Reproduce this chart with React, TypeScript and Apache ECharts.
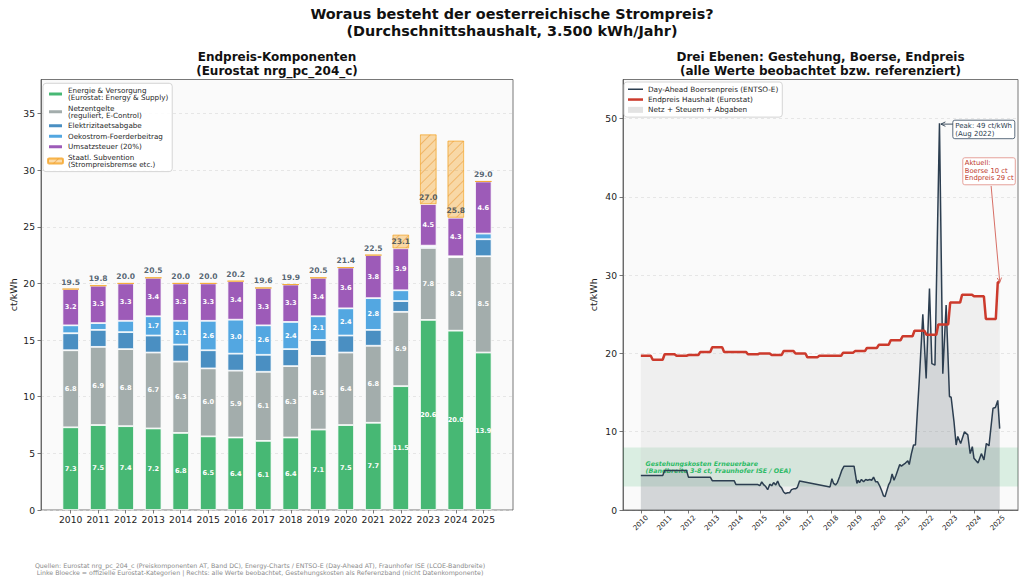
import React, { useEffect, useRef } from "react";
import * as echarts from "echarts";

const FONT = "DejaVu Sans";

// ---------- left chart data (Eurostat components, ct/kWh) ----------
const YEARS = ["2010", "2011", "2012", "2013", "2014", "2015", "2016", "2017", "2018", "2019", "2020", "2021", "2022", "2023", "2024", "2025"];
const ENERGIE = [7.3, 7.5, 7.4, 7.2, 6.8, 6.5, 6.4, 6.1, 6.4, 7.1, 7.5, 7.7, 11.5, 20.6, 20.0, 13.9];
const NETZ = [6.8, 6.9, 6.8, 6.7, 6.3, 6.0, 5.9, 6.1, 6.3, 6.5, 6.4, 6.8, 6.9, 7.8, 8.2, 8.5];
const ABGABE = [1.5, 1.5, 1.5, 1.5, 1.5, 1.6, 1.5, 1.5, 1.5, 1.4, 1.5, 1.4, 1.0, 0.15, 0.1, 1.5];
const OEKO = [0.7, 0.6, 1.0, 1.7, 2.1, 2.6, 3.0, 2.6, 2.4, 2.1, 2.4, 2.8, 1.0, 0.1, 0.0, 0.5];
const UST = [3.2, 3.3, 3.3, 3.4, 3.3, 3.3, 3.4, 3.3, 3.3, 3.4, 3.6, 3.8, 3.9, 4.5, 4.3, 4.6];
const ENDPREIS_NETTO = [19.5, 19.8, 20.0, 20.5, 20.0, 20.0, 20.2, 19.6, 19.9, 20.5, 21.4, 22.5, 23.1, 27.0, 25.8, 29.0];
const SUBVENTION = [0, 0, 0, 0, 0, 0, 0, 0, 0, 0, 0, 0, 1.2, 6.15, 6.8, 0];
const Y_TICKS_LEFT = [0, 5, 10, 15, 20, 25, 30, 35];

// ---------- right chart data ----------
const DA_T = [
  2010.0, 2010.92, 2011.0, 2011.92, 2012.0, 2012.92, 2013.0, 2013.92, 2014.0, 2014.92,
  2015.0, 2015.08, 2015.17, 2015.25, 2015.33, 2015.42, 2015.5, 2015.58, 2015.67, 2015.75, 2015.83, 2015.92,
  2016.0, 2016.08, 2016.17, 2016.25, 2016.33, 2016.42, 2016.5, 2016.58, 2016.67,
  2017.95, 2018.03, 2018.1, 2018.18, 2018.26, 2018.36, 2018.45, 2018.54, 2018.96,
  2019.08, 2019.13, 2019.19, 2019.27, 2019.36, 2019.45, 2019.53, 2019.62, 2019.7, 2019.78, 2019.87, 2019.95,
  2020.05, 2020.13, 2020.2, 2020.26, 2020.33, 2020.41, 2020.48, 2020.56, 2020.64, 2020.72, 2020.8, 2020.88, 2020.95,
  2021.03, 2021.12, 2021.22, 2021.28, 2021.37, 2021.46, 2021.54, 2021.62, 2021.7, 2021.85, 2021.99,
  2022.13, 2022.23, 2022.36, 2022.55, 2022.69, 2022.83, 2022.97,
  2023.04, 2023.16, 2023.25, 2023.32, 2023.44, 2023.6, 2023.74, 2023.84, 2023.93,
  2024.0, 2024.17, 2024.31, 2024.42, 2024.52, 2024.63, 2024.8, 2024.9, 2025.0, 2025.08,
];
const DA_V = [
  4.4, 4.4, 5.05, 5.05, 4.2, 4.2, 3.75, 3.75, 3.25, 3.25,
  3.1, 3.6, 3.2, 3.0, 2.6, 3.3, 3.1, 3.5, 3.2, 3.7, 3.1, 2.8,
  2.3, 2.1, 2.2, 2.2, 2.6, 2.7, 2.7, 2.9, 3.7,
  2.95, 4.0, 3.4, 3.2, 3.5, 4.3, 5.1, 5.6, 5.6,
  3.4, 3.8, 3.5, 3.9, 3.6, 3.9, 3.8, 3.9, 3.8, 4.2, 3.6, 3.6,
  3.0, 2.4, 1.8, 1.7, 2.4, 3.2, 3.6, 4.6, 3.8, 4.4, 5.1, 5.8, 5.6,
  5.8, 6.0, 6.3, 5.8, 7.2, 8.3, 8.3, 12.5, 16.5, 25.0, 16.8,
  28.3, 18.7, 18.5, 49.4, 17.4, 26.2, 14.5,
  14.4, 11.3, 8.3, 9.4, 8.5, 10.0, 9.6, 7.2, 8.1,
  6.6, 6.0, 7.2, 6.4, 8.5, 8.2, 13.0, 13.1, 14.0, 10.4,
];
// Endpreis Haushalt (Eurostat), half-years from 2010-H1 to 2025-H1
const EP_HALBJAHR = [
  19.7, 19.2, 19.9, 19.7, 19.8, 20.2, 20.8, 20.2, 20.2, 19.9, 20.0, 19.8, 20.3, 20.0, 19.5, 19.7,
  19.7, 20.1, 20.3, 20.7, 21.1, 21.7, 22.2, 22.9, 22.4, 23.7, 26.5, 27.5, 27.3, 24.4, 29.1,
];
const EP_START = 2010;
const X_TICKS_RIGHT = [2010, 2011, 2012, 2013, 2014, 2015, 2016, 2017, 2018, 2019, 2020, 2021, 2022, 2023, 2024, 2025];
const Y_TICKS_RIGHT = [0, 10, 20, 30, 40, 50];
const BAND = [3, 8];
const PEAK = [2022.55, 49.4];

const NAMES_LEFT = [
  "Energie & Versorgung\n(Eurostat: Energy & Supply)",
  "Netzentgelte\n(reguliert, E-Control)",
  "Elektrizitaetsabgabe",
  "Oekostrom-Foerderbeitrag",
  "Umsatzsteuer (20%)",
  "Staatl. Subvention\n(Strompreisbremse etc.)",
];
const NAMES_RIGHT = ["Day-Ahead Boersenpreis (ENTSO-E)", "Endpreis Haushalt (Eurostat)", "Netz + Steuern + Abgaben"];

const grossSum = YEARS.map((_, i) => ENERGIE[i] + NETZ[i] + ABGABE[i] + OEKO[i] + UST[i]);
const scale = YEARS.map((_, i) => ENDPREIS_NETTO[i] / grossSum[i]);

// layout of the left panel: x range -1.08 .. 16.08 (bar spacing like the reference)
const L_LEFT = 41, L_WIDTH = 472, TOP = 79.5, HEIGHT = 430.5;
const UNIT = L_WIDTH / 17.16;

function barSeries(name: string, vals: number[], color: string, labelMin: number) {
  return {
    type: "bar",
    name,
    stack: "total",
    xAxisIndex: 2,
    yAxisIndex: 2,
    barWidth: 16.5,
    data: vals.map((v, i) => v * scale[i]),
    itemStyle: { color, borderColor: "#ffffff", borderWidth: 0.8 },
    label: {
      show: true,
      position: "inside",
      color: "#ffffff",
      fontSize: 6.6,
      fontWeight: "bold",
      fontFamily: FONT,
      formatter: (p: any) => (vals[p.dataIndex] >= labelMin ? vals[p.dataIndex].toFixed(1) : ""),
    },
    silent: true,
  };
}

function buildEp() {
  const pts: number[][] = [];
  EP_HALBJAHR.forEach((v, k) => {
    const s = EP_START + k * 0.5;
    const last = k === EP_HALBJAHR.length - 1;
    pts.push([s, v]);
    pts.push([s + (last ? 1 / 12 : 5 / 12), v]);
  });
  return pts;
}

const lineIcon = (h: number) => `path://M0,0 L30,0 L30,${h} L0,${h} Z`;

export default function App() {
  const ref = useRef<HTMLDivElement>(null);
  useEffect(() => {
    if (!ref.current) return;
    const chart = echarts.init(ref.current, null, { renderer: "svg" });
    const epPts = buildEp();
    const daPts = DA_T.map((t, i) => [t, DA_V[i]]);
    const axisCol = "#555555";
    const tickFont = { fontFamily: FONT, fontSize: 9.2, color: "#222222" };

    const option: any = {
      animation: false,
      backgroundColor: "#ffffff",
      textStyle: { fontFamily: FONT },
      grid: [
        { left: L_LEFT, top: TOP, width: L_WIDTH, height: HEIGHT, show: true, backgroundColor: "#fafafa", borderColor: axisCol, borderWidth: 0.8 },
        { left: 623, top: TOP, width: 395, height: HEIGHT, show: true, backgroundColor: "#fafafa", borderColor: axisCol, borderWidth: 0.8 },
        { left: L_LEFT + 0.58 * UNIT, top: TOP, width: 16 * UNIT, height: HEIGHT, show: false },
      ],
      xAxis: [
        { type: "value", gridIndex: 0, min: 0, max: 1, show: false },
        {
          type: "value",
          gridIndex: 1,
          min: 2009.25,
          max: 2025.85,
          axisLine: { lineStyle: { color: axisCol, width: 0.8 } },
          axisTick: { customValues: X_TICKS_RIGHT, length: 3.5, lineStyle: { color: axisCol, width: 0.8 } },
          axisLabel: {
            customValues: X_TICKS_RIGHT,
            formatter: (v: number) => String(Math.round(v)),
            rotate: 45,
            align: "center",
            verticalAlign: "middle",
            margin: 13,
            fontFamily: FONT,
            fontSize: 7,
            color: "#222222",
          },
          splitLine: { show: false },
        },
        {
          type: "category",
          gridIndex: 2,
          data: YEARS,
          boundaryGap: true,
          axisLine: { show: false },
          axisTick: { show: true, alignWithLabel: true, length: 3.5, lineStyle: { color: axisCol, width: 0.8 } },
          axisLabel: { margin: 5, interval: 0, ...tickFont },
          splitLine: { show: false },
        },
      ],
      yAxis: [
        {
          type: "value",
          gridIndex: 0,
          min: 0,
          max: 38,
          interval: 5,
          name: "ct/kWh",
          nameLocation: "middle",
          nameGap: 23,
          nameTextStyle: { fontFamily: FONT, fontSize: 9.5, color: "#222222" },
          axisLine: { show: true, lineStyle: { color: axisCol, width: 0.8 } },
          axisTick: { show: true, customValues: Y_TICKS_LEFT, length: 3.5, lineStyle: { color: axisCol, width: 0.8 } },
          axisLabel: { customValues: Y_TICKS_LEFT, margin: 6, ...tickFont },
          splitLine: { show: true, lineStyle: { color: "#dcdcdc", type: [3, 3], width: 0.7 } },
        },
        {
          type: "value",
          gridIndex: 1,
          min: 0,
          max: 55,
          interval: 10,
          name: "ct/kWh",
          nameLocation: "middle",
          nameGap: 25,
          nameTextStyle: { fontFamily: FONT, fontSize: 9.5, color: "#222222" },
          axisLine: { show: true, lineStyle: { color: axisCol, width: 0.8 } },
          axisTick: { show: true, customValues: Y_TICKS_RIGHT, length: 3.5, lineStyle: { color: axisCol, width: 0.8 } },
          axisLabel: { customValues: Y_TICKS_RIGHT, margin: 6, ...tickFont },
          splitLine: { show: true, lineStyle: { color: "#dcdcdc", type: [3, 3], width: 0.7 } },
        },
        { type: "value", gridIndex: 2, min: 0, max: 38, show: false, splitLine: { show: false } },
      ],
      legend: [
        {
          data: NAMES_LEFT,
          orient: "vertical",
          left: 43,
          top: 83.3,
          itemWidth: 15,
          itemHeight: 5,
          itemGap: 3.3,
          padding: [3.5, 4, 3.5, 4],
          backgroundColor: "rgba(255,255,255,0.85)",
          borderColor: "#cccccc",
          borderWidth: 0.8,
          borderRadius: 3,
          selectedMode: false,
          textStyle: { fontFamily: FONT, fontSize: 7.2, lineHeight: 7.2, color: "#262626" },
        },
        {
          data: [
            { name: NAMES_RIGHT[0], icon: lineIcon(3) },
            { name: NAMES_RIGHT[1], icon: lineIcon(5) },
            { name: NAMES_RIGHT[2], icon: "rect" },
          ],
          orient: "vertical",
          left: 624,
          top: 82,
          itemWidth: 15,
          itemHeight: 6,
          itemGap: 2.8,
          padding: [3.5, 4, 3.5, 4],
          backgroundColor: "rgba(255,255,255,0.85)",
          borderColor: "#cccccc",
          borderWidth: 0.8,
          borderRadius: 3,
          selectedMode: false,
          textStyle: { fontFamily: FONT, fontSize: 7.3, lineHeight: 7.5, color: "#262626" },
        },
      ],
      series: [
        barSeries(NAMES_LEFT[0], ENERGIE, "#47b874", 0),
        barSeries(NAMES_LEFT[1], NETZ, "#a3adac", 0),
        barSeries(NAMES_LEFT[2], ABGABE, "#4a8fc2", 1.7),
        barSeries(NAMES_LEFT[3], OEKO, "#53a7e1", 1.7),
        barSeries(NAMES_LEFT[4], UST, "#9d5bb8", 0),
        {
          type: "bar",
          name: NAMES_LEFT[5],
          stack: "total",
          xAxisIndex: 2,
          yAxisIndex: 2,
          barWidth: 16.5,
          data: SUBVENTION,
          itemStyle: {
            color: "rgba(243,156,18,0.36)",
            borderColor: "rgba(243,156,18,0.45)",
            borderWidth: 0.8,
            decal: {
              symbol: "rect",
              symbolSize: 1,
              color: "rgba(232,140,30,0.45)",
              dashArrayX: [1, 0],
              dashArrayY: [1, 6],
              rotation: -Math.PI / 4,
            },
          },
          silent: true,
        },
        {
          type: "scatter",
          name: "total",
          xAxisIndex: 2,
          yAxisIndex: 2,
          symbolSize: 1,
          itemStyle: { color: "rgba(0,0,0,0)" },
          z: 10,
          data: ENDPREIS_NETTO,
          label: {
            show: true,
            position: "top",
            distance: 2.5,
            fontFamily: FONT,
            fontSize: 7.6,
            fontWeight: "bold",
            color: "#2c3e50",
            formatter: (p: any) => ENDPREIS_NETTO[p.dataIndex].toFixed(1),
          },
          silent: true,
        },
        // right chart
        {
          type: "line",
          name: NAMES_RIGHT[2],
          xAxisIndex: 1,
          yAxisIndex: 1,
          data: epPts,
          symbol: "none",
          lineStyle: { width: 0, opacity: 0 },
          itemStyle: { color: "#e3e3e3" },
          areaStyle: { color: "rgba(200,200,200,0.3)" },
          z: 1,
          silent: true,
          markArea: {
            silent: true,
            itemStyle: { color: "rgba(39,174,96,0.15)" },
            data: [[{ yAxis: BAND[0] }, { yAxis: BAND[1] }]],
          },
        },
        {
          type: "line",
          name: NAMES_RIGHT[0],
          xAxisIndex: 1,
          yAxisIndex: 1,
          data: daPts,
          symbol: "none",
          lineStyle: { width: 1.5, color: "#2c3e50" },
          itemStyle: { color: "#2c3e50" },
          areaStyle: { color: "rgba(44,62,80,0.2)" },
          z: 3,
          silent: true,
        },
        {
          type: "line",
          name: NAMES_RIGHT[1],
          xAxisIndex: 1,
          yAxisIndex: 1,
          data: epPts,
          symbol: "none",
          lineStyle: { width: 2.5, color: "#cc3a2c" },
          itemStyle: { color: "#cc3a2c" },
          z: 4,
          silent: true,
        },
      ],
    };
    chart.setOption(option);

    const px = (x: number, y: number) => chart.convertToPixel({ gridIndex: 1 }, [x, y]) as number[];
    const arrowHead = (sx: number, sy: number, tx: number, ty: number, color: string) => {
      const dx = tx - sx, dy = ty - sy;
      const len = Math.sqrt(dx * dx + dy * dy) || 1;
      const ux = dx / len, uy = dy / len;
      const size = 4.5, hw = 2.2;
      const bx = tx - ux * size, by = ty - uy * size;
      return {
        type: "polyline",
        z: 20,
        silent: true,
        shape: { points: [[bx - uy * hw, by + ux * hw], [tx, ty], [bx + uy * hw, by - ux * hw]] },
        style: { stroke: color, lineWidth: 0.9, fill: null },
      };
    };

    const peakTip = px(PEAK[0] + 0.06, PEAK[1] - 0.1);
    const peakBox = px(2023.11, 49.8);
    const aktBox = px(2023.53, 45.0);
    const epEnd = epPts[epPts.length - 1];
    const aktTip = px(epEnd[0], epEnd[1]);
    const aktStart = px(2024.72, 41.4);
    const bandText = px(2010.2, 6.4);

    const elements: any[] = [
      { type: "text", silent: true, style: { text: "Woraus besteht der oesterreichische Strompreis?", x: 512, y: 13.5, align: "center", verticalAlign: "middle", fontFamily: FONT, fontSize: 14.4, fontWeight: "bold", fill: "#111111" } },
      { type: "text", silent: true, style: { text: "(Durchschnittshaushalt, 3.500 kWh/Jahr)", x: 512, y: 30.5, align: "center", verticalAlign: "middle", fontFamily: FONT, fontSize: 14.4, fontWeight: "bold", fill: "#111111" } },
      { type: "text", silent: true, style: { text: "Endpreis-Komponenten", x: 277, y: 56.5, align: "center", verticalAlign: "middle", fontFamily: FONT, fontSize: 12, fontWeight: "bold", fill: "#111111" } },
      { type: "text", silent: true, style: { text: "(Eurostat nrg_pc_204_c)", x: 277, y: 70.5, align: "center", verticalAlign: "middle", fontFamily: FONT, fontSize: 12, fontWeight: "bold", fill: "#111111" } },
      { type: "text", silent: true, style: { text: "Drei Ebenen: Gestehung, Boerse, Endpreis", x: 820.5, y: 56.5, align: "center", verticalAlign: "middle", fontFamily: FONT, fontSize: 12, fontWeight: "bold", fill: "#111111" } },
      { type: "text", silent: true, style: { text: "(alle Werte beobachtet bzw. referenziert)", x: 820.5, y: 70.5, align: "center", verticalAlign: "middle", fontFamily: FONT, fontSize: 12, fontWeight: "bold", fill: "#111111" } },
      { type: "text", silent: true, style: { text: "Quellen: Eurostat nrg_pc_204_c (Preiskomponenten AT, Band DC), Energy-Charts / ENTSO-E (Day-Ahead AT), Fraunhofer ISE (LCOE-Bandbreite)", x: 260, y: 565, align: "center", verticalAlign: "middle", fontFamily: FONT, fontSize: 6.3, fill: "#8a8a8a" } },
      { type: "text", silent: true, style: { text: "Linke Bloecke = offizielle Eurostat-Kategorien | Rechts: alle Werte beobachtet, Gestehungskosten als Referenzband (nicht Datenkomponente)", x: 260, y: 572.5, align: "center", verticalAlign: "middle", fontFamily: FONT, fontSize: 6.3, fill: "#8a8a8a" } },
      { type: "text", silent: true, z: 2, style: { text: "Gestehungskosten Erneuerbare\n(Bandbreite 3-8 ct, Fraunhofer ISE / OEA)", x: bandText[0], y: bandText[1], align: "left", verticalAlign: "top", fontFamily: FONT, fontSize: 6.3, lineHeight: 6.8, fontWeight: "bold", fontStyle: "italic", fill: "#2dbb66" } },
      // Peak annotation
      { type: "rect", silent: true, z: 20, shape: { x: peakBox[0], y: peakBox[1], width: 62, height: 18.5, r: 2 }, style: { fill: "#ffffff", stroke: "#5d6d7e", lineWidth: 1 } },
      { type: "text", silent: true, z: 21, style: { text: "Peak: 49 ct/kWh\n(Aug 2022)", x: peakBox[0] + 2.5, y: peakBox[1] + 1.5, align: "left", verticalAlign: "top", fontFamily: FONT, fontSize: 7, lineHeight: 8, fill: "#2c3e50" } },
      { type: "line", silent: true, z: 20, shape: { x1: peakBox[0], y1: peakTip[1], x2: peakTip[0], y2: peakTip[1] }, style: { stroke: "#2c3e50", lineWidth: 0.9 } },
      arrowHead(peakBox[0], peakTip[1], peakTip[0], peakTip[1], "#2c3e50"),
      // Aktuell annotation
      { type: "rect", silent: true, z: 20, shape: { x: aktBox[0], y: aktBox[1], width: 52.5, height: 27, r: 2 }, style: { fill: "#ffffff", stroke: "#e6a29b", lineWidth: 1 } },
      { type: "text", silent: true, z: 21, style: { text: "Aktuell:\nBoerse 10 ct\nEndpreis 29 ct", x: aktBox[0] + 2, y: aktBox[1] + 1.2, align: "left", verticalAlign: "top", fontFamily: FONT, fontSize: 6.8, lineHeight: 7.8, fill: "#c0392b" } },
      { type: "line", silent: true, z: 20, shape: { x1: aktStart[0], y1: aktStart[1], x2: aktTip[0], y2: aktTip[1] }, style: { stroke: "#d35f55", lineWidth: 0.9 } },
      arrowHead(aktStart[0], aktStart[1], aktTip[0], aktTip[1], "#d35f55"),
    ];
    chart.setOption({ graphic: { elements } });

    return () => chart.dispose();
  }, []);
  return <div ref={ref} style={{ position: "fixed", left: 0, top: 0, width: 1024, height: 584 }} />;
}
